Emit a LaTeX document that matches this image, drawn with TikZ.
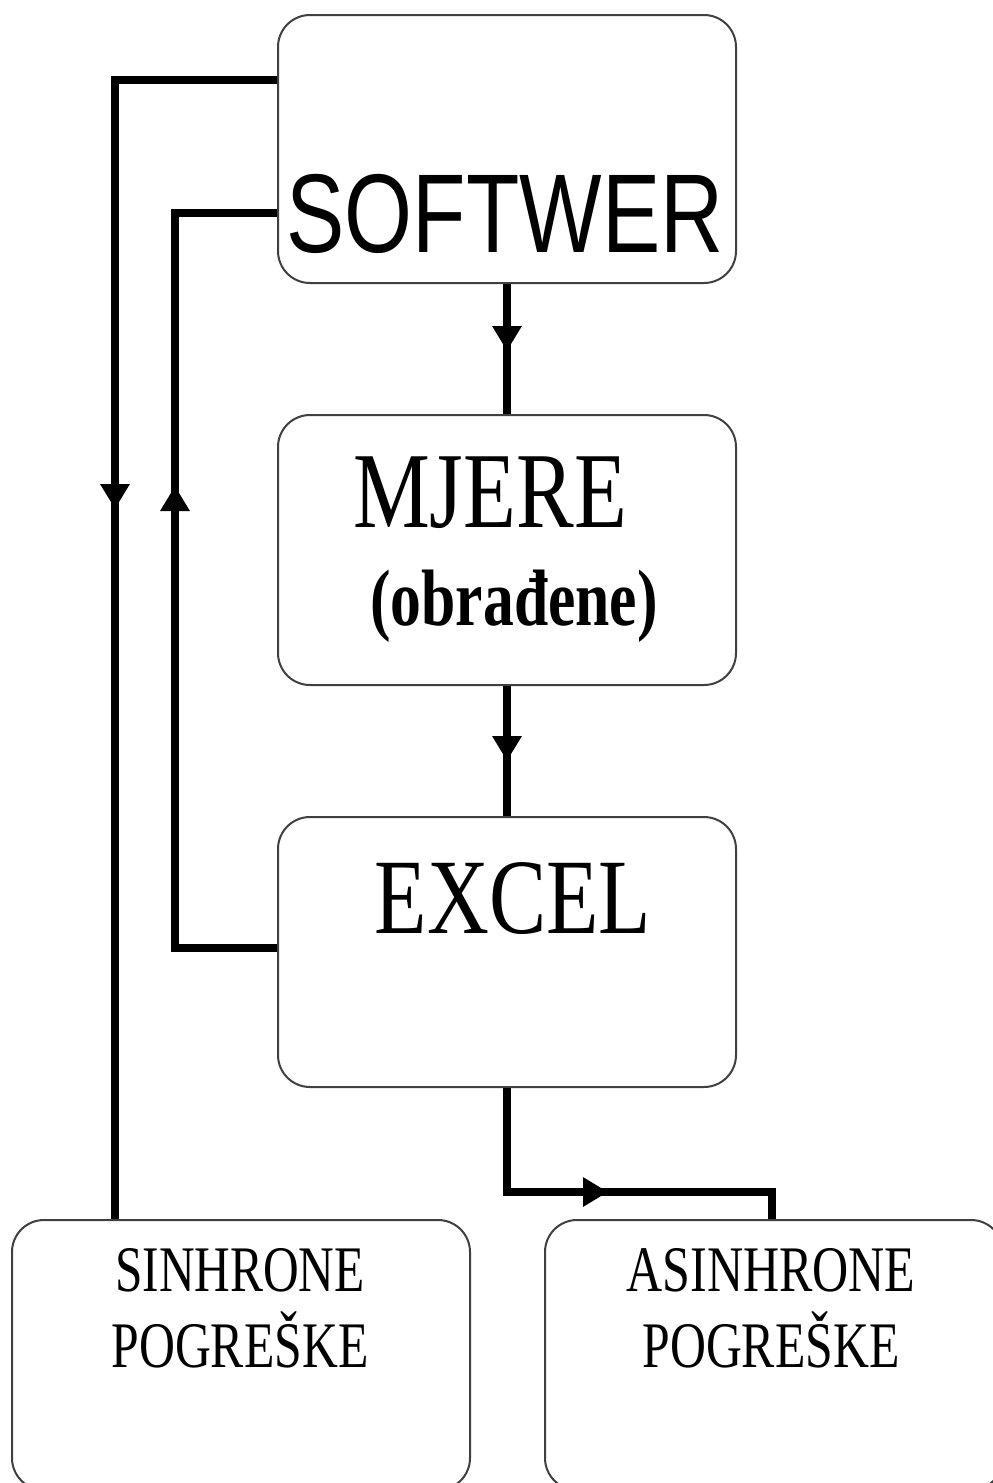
\documentclass[tikz,border=0pt]{standalone}
\usepackage{fontspec}
\setmainfont{Liberation Serif}
\newfontfamily\arialf{Liberation Sans}
\usetikzlibrary{arrows.meta,decorations.markings}
\begin{document}
\begin{tikzpicture}[x=0.5pt,y=-0.5pt,
  box/.style={draw=black!75, line width=1pt, rounded corners=16pt, minimum width=229pt, minimum height=135pt, inner sep=0pt, fill=white},
  conn/.style={line width=3.6pt, line join=miter},
  arrowat/.style={postaction={decorate}, decoration={markings, mark=at position #1 with {\arrow{Triangle[width=14pt,length=12.5pt]}}}},
  lbl/.style={anchor=base, inner sep=0pt, text=black}
]
\useasboundingbox[fill=white] (0,0) rectangle (992,1483);

% boxes
\node[box, minimum height=134pt] (soft) at (507,149) {};
\node[box] (mj) at (507,550) {};
\node[box] (exc) at (507,952) {};
\node[box] (sinh) at (241,1355) {};
\node[box] (asinh) at (774,1355) {};

% texts
\node[lbl] (tSoft) at (505,252) {\arialf\fontsize{56}{60}\selectfont\scalebox{0.78}[1]{SOFTWER}};
\node[lbl] (tMj) at (490,527) {\fontsize{54}{58}\selectfont\scalebox{0.80}[1]{MJERE}};
\node[lbl] (tObr) at (514,625) {\bfseries\fontsize{40}{44}\selectfont\scalebox{0.77}[1]{(obrađene)}};
\node[lbl] (tExc) at (513,933) {\fontsize{53.6}{58}\selectfont\scalebox{0.80}[1]{EXCEL}};
\node[lbl] (tS1) at (240,1291) {\fontsize{32.5}{36}\selectfont\scalebox{0.76}[1]{SINHRONE}};
\node[lbl] (tS2) at (240,1367) {\fontsize{32.5}{36}\selectfont\scalebox{0.765}[1]{POGREŠKE}};
\node[lbl] (tA1) at (771,1291) {\fontsize{32.5}{36}\selectfont\scalebox{0.77}[1]{ASINHRONE}};
\node[lbl] (tA2) at (771,1367) {\fontsize{32.5}{36}\selectfont\scalebox{0.765}[1]{POGREŠKE}};

% bend points
\coordinate (b1) at (115,80);
\coordinate (b2) at (175,213);
\coordinate (b3) at (175,948);
\coordinate (b4) at (507,1192);
\coordinate (b5) at (772,1192);

% connectors
\draw[conn, arrowat=295.5pt] (soft.west |- b1) -- (b1) -- (sinh.north -| b1);
\draw[conn, arrowat=282pt] (exc.west |- b3) -- (b3) -- (b2) -- (soft.west |- b2);
\draw[conn, arrowat=33.5pt] (soft.south) -- (mj.north);
\draw[conn, arrowat=37.5pt] (mj.south) -- (exc.north);
\draw[conn, line width=4pt, arrowat=102.5pt] (exc.south) -- (b4) -- (b5) -- (asinh.north -| b5);
\end{tikzpicture}
\end{document}
